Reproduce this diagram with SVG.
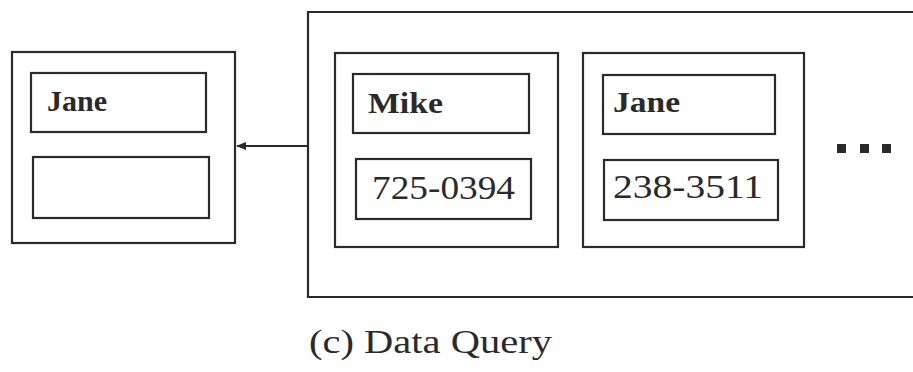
<svg xmlns="http://www.w3.org/2000/svg" width="913" height="372" viewBox="0 0 913 372">
<style>
.b{fill:none;stroke:#2a2a2a;stroke-width:2.2}
.t{font-family:"Liberation Serif",serif;fill:#2a2a2a}
.n{font-size:30px;font-weight:bold}
.p{font-size:33px}
</style>
<defs>
<marker id="ah" markerWidth="10" markerHeight="10" refX="9" refY="5" orient="auto" markerUnits="userSpaceOnUse">
<path d="M0,1 L10,5 L0,9 Z" fill="#2a2a2a"/>
</marker>
</defs>
<rect width="913" height="372" fill="#fff"/>
<g id="result">
<rect class="b" x="12" y="52" width="223" height="191"/>
<rect class="b" x="31" y="73" width="175" height="59"/>
<text class="t n" x="47" y="111" textLength="60" lengthAdjust="spacingAndGlyphs">Jane</text>
<rect class="b" x="33" y="157" width="176" height="61"/>
</g>
<g id="database">
<path class="b" d="M915,12 H308 V297 H915"/>
</g>
<g id="record-mike">
<rect class="b" x="335" y="53" width="223" height="194"/>
<rect class="b" x="353" y="74" width="176" height="59"/>
<text class="t n" x="368" y="113" textLength="75" lengthAdjust="spacingAndGlyphs">Mike</text>
<rect class="b" x="356" y="159" width="175" height="60"/>
<text class="t p" x="372" y="199" textLength="143" lengthAdjust="spacingAndGlyphs">725-0394</text>
</g>
<g id="record-jane">
<rect class="b" x="583" y="53" width="221" height="194"/>
<rect class="b" x="603" y="75" width="172" height="59"/>
<text class="t n" x="613" y="112" textLength="67" lengthAdjust="spacingAndGlyphs">Jane</text>
<rect class="b" x="604" y="160" width="174" height="60"/>
<text class="t p" x="613" y="198" textLength="150" lengthAdjust="spacingAndGlyphs">238-3511</text>
</g>
<g id="ellipsis" fill="#2a2a2a">
<rect x="837" y="144" width="9" height="9"/>
<rect x="860" y="144" width="9" height="9"/>
<rect x="882" y="144" width="9" height="9"/>
</g>
<g id="connectors">
<line class="b" x1="308" y1="146" x2="237" y2="146" marker-end="url(#ah)"/>
</g>
<text class="t" x="309" y="353" font-size="34" textLength="243" lengthAdjust="spacingAndGlyphs">(c) Data Query</text>
</svg>
